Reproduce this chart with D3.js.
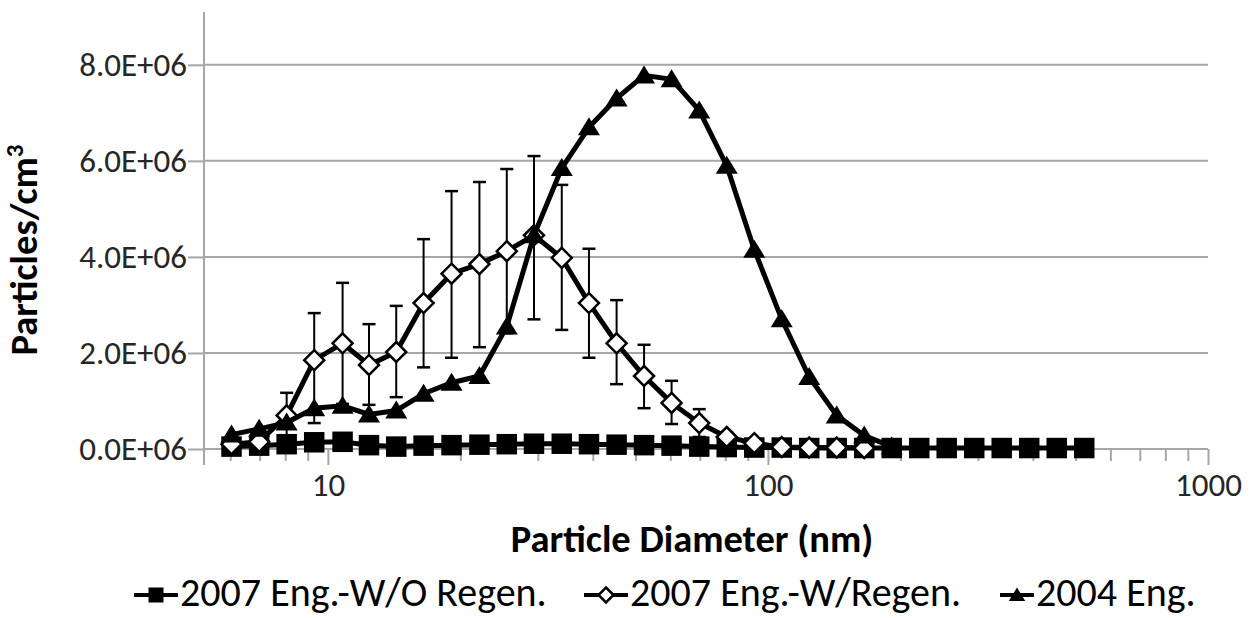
<!DOCTYPE html>
<html><head><meta charset="utf-8">
<script src="https://cdn.jsdelivr.net/npm/d3@7"></script>
<style>html,body{margin:0;padding:0;background:#fff;} svg{display:block;}</style>
</head><body><svg id="c" width="1256" height="618"></svg>
<script>
// ---------- data ----------
const diameters = [6.04, 6.98, 8.06, 9.31, 10.8, 12.4, 14.3, 16.5, 19.1, 22.1, 25.5, 29.4, 34.0, 39.2, 45.3, 52.3,
  60.4, 69.8, 80.6, 93.1, 107.5, 124.1, 143.3, 165.5, 191.1, 220.7, 254.8, 294.3, 339.8, 392.4, 453.2, 523.3];
const noRegen = [0.05e6, 0.07e6, 0.10e6, 0.14e6, 0.15e6, 0.08e6, 0.05e6, 0.07e6, 0.08e6, 0.09e6, 0.10e6, 0.11e6,
  0.11e6, 0.10e6, 0.09e6, 0.08e6, 0.07e6, 0.05e6, 0.04e6, 0.03e6, 0.03e6, 0.02e6, 0.02e6, 0.02e6, 0.02e6, 0.02e6,
  0.02e6, 0.02e6, 0.02e6, 0.02e6, 0.02e6, 0.02e6];
const withRegen = [0.10e6, 0.15e6, 0.70e6, 1.85e6, 2.20e6, 1.75e6, 2.02e6, 3.04e6, 3.65e6, 3.85e6, 4.12e6, 4.45e6,
  3.98e6, 3.04e6, 2.20e6, 1.52e6, 0.96e6, 0.54e6, 0.25e6, 0.12e6, 0.04e6, 0.03e6, 0.03e6, 0.02e6];
const withRegenErrUp = [0.03e6, 0.05e6, 0.47e6, 0.98e6, 1.26e6, 0.85e6, 0.96e6, 1.33e6, 1.72e6, 1.71e6, 1.71e6, 1.65e6,
  1.52e6, 1.13e6, 0.90e6, 0.65e6, 0.46e6, 0.29e6, 0.10e6, 0.03e6, 0.03e6, 0.03e6, 0.03e6, 0.03e6];
const withRegenErrDown = [0.03e6, 0.05e6, 0.47e6, 1.31e6, 1.26e6, 0.83e6, 0.94e6, 1.34e6, 1.75e6, 1.73e6, 1.71e6, 1.75e6,
  1.50e6, 1.14e6, 0.85e6, 0.67e6, 0.44e6, 0.29e6, 0.10e6, 0.03e6, 0.03e6, 0.03e6, 0.03e6, 0.03e6];
const eng2004 = [0.30e6, 0.42e6, 0.55e6, 0.85e6, 0.90e6, 0.72e6, 0.80e6, 1.15e6, 1.38e6, 1.52e6, 2.55e6, 4.45e6,
  5.85e6, 6.70e6, 7.30e6, 7.78e6, 7.70e6, 7.05e6, 5.90e6, 4.15e6, 2.70e6, 1.50e6, 0.70e6, 0.28e6, 0.05e6];
const seriesNames = ["2007 Eng.-W/O Regen.", "2007 Eng.-W/Regen.", "2004 Eng."];
const yTicks = [0, 2e6, 4e6, 6e6, 8e6];
const xMajorTicks = [10, 100, 1000];
const xMinorTicks = [6, 7, 8, 9, 20, 30, 40, 50, 60, 70, 80, 90, 200, 300, 400, 500, 600, 700, 800, 900];
const xTitle = "Particle Diameter (nm)";
const yTitle = "Particles/cm";

// ---------- layout ----------
const FONT = "Carlito, Calibri, 'Liberation Sans', Arial, sans-serif";
const plot = {left: 204, right: 1208, top: 12, zeroY: 449};
const GRID = "#a6a6a6";
const TICK_FONT = 33, TITLE_FONT = 38.5, LEGEND_FONT = 40;

const svg = d3.select("#c");
const x = d3.scaleLog().domain([5.23, 1000]).range([plot.left, plot.right]);
const y = d3.scaleLinear().domain([0, 9.1e6]).range([plot.zeroY, plot.top]);

// gridlines
svg.append("g").selectAll("line").data(yTicks).join("line")
  .attr("x1", plot.left).attr("x2", plot.right)
  .attr("y1", d => y(d)).attr("y2", d => y(d))
  .attr("stroke", GRID).attr("stroke-width", 2);

// y axis
const yAxis = svg.append("g").attr("transform", `translate(${plot.left},0)`)
  .call(d3.axisLeft(y).tickValues(yTicks).tickSize(16).tickPadding(1)
    .tickFormat(d => (d / 1e6).toFixed(1) + "E+06"));
yAxis.select(".domain").remove();
yAxis.selectAll(".tick line").attr("stroke", GRID).attr("stroke-width", 2);
yAxis.selectAll(".tick text").attr("font-family", FONT).attr("font-size", TICK_FONT).attr("fill", "#262626");
svg.append("line").attr("x1", plot.left).attr("x2", plot.left)
  .attr("y1", plot.top).attr("y2", plot.zeroY + 16)
  .attr("stroke", GRID).attr("stroke-width", 2);

// x axis
const xg = svg.append("g").attr("transform", `translate(0,${plot.zeroY})`);
const xAxisMinor = xg.append("g").call(d3.axisBottom(x).tickValues(xMinorTicks).tickSize(12).tickFormat(""));
xAxisMinor.select(".domain").remove();
xAxisMinor.selectAll(".tick line").attr("stroke", GRID).attr("stroke-width", 2);
const xAxisMajor = xg.append("g").call(d3.axisBottom(x).tickValues(xMajorTicks).tickSize(16).tickPadding(8)
  .tickFormat(d3.format("d")));
xAxisMajor.select(".domain").remove();
xAxisMajor.selectAll(".tick line").attr("stroke", GRID).attr("stroke-width", 2);
xAxisMajor.selectAll(".tick text").attr("font-family", FONT).attr("font-size", TICK_FONT).attr("fill", "#262626");
xg.append("line").attr("x1", plot.left).attr("x2", plot.right).attr("y1", 0).attr("y2", 0)
  .attr("stroke", GRID).attr("stroke-width", 2);

// titles
svg.append("text").attr("x", 692).attr("y", 552).attr("text-anchor", "middle")
  .attr("font-family", FONT).attr("font-size", TITLE_FONT).attr("font-weight", "bold").attr("fill", "#000")
  .text(xTitle);
const yt = svg.append("text").attr("transform", "translate(37,250) rotate(-90)").attr("text-anchor", "middle")
  .attr("font-family", FONT).attr("font-size", TITLE_FONT).attr("font-weight", "bold").attr("fill", "#000");
yt.append("tspan").text(yTitle);
yt.append("tspan").attr("font-size", 25).attr("dy", -14).text("3");

// ---------- marker shapes ----------
function markerSquare(g, cx, cy, s) {
  g.append("rect").attr("x", cx - s / 2).attr("y", cy - s / 2).attr("width", s).attr("height", s).attr("fill", "#000");
}
function markerDiamond(g, cx, cy, s) {
  const h = s / 2;
  g.append("path").attr("d", `M${cx},${cy - h}L${cx + h},${cy}L${cx},${cy + h}L${cx - h},${cy}Z`)
    .attr("fill", "#fff").attr("stroke", "#000").attr("stroke-width", 2.5);
}
function markerTriangle(g, cx, cy, s) {
  const w = s * 0.55, hTop = s * 0.5, hBot = s * 0.4;
  g.append("path").attr("d", `M${cx},${cy - hTop}L${cx + w},${cy + hBot}L${cx - w},${cy + hBot}Z`).attr("fill", "#000");
}

const line = d3.line().x(d => x(d[0])).y(d => y(d[1]));

// series 1: squares
const s1 = diameters.map((d, i) => [d, noRegen[i]]);
const g1 = svg.append("g");
g1.append("path").attr("d", line(s1)).attr("fill", "none").attr("stroke", "#000").attr("stroke-width", 5);
s1.forEach(p => markerSquare(g1, x(p[0]), y(p[1]), 20.5));

// series 2: diamonds with error bars
const s2 = withRegen.map((v, i) => [diameters[i], v]);
const g2 = svg.append("g");
g2.append("path").attr("d", line(s2)).attr("fill", "none").attr("stroke", "#000").attr("stroke-width", 5);
s2.forEach((p, i) => {
  const cx = x(p[0]), yTop = y(p[1] + withRegenErrUp[i]), yBot = y(p[1] - withRegenErrDown[i]);
  g2.append("line").attr("x1", cx).attr("x2", cx).attr("y1", yTop).attr("y2", yBot).attr("stroke", "#000").attr("stroke-width", 2);
  [yTop, yBot].forEach(yy => g2.append("line").attr("x1", cx - 6.5).attr("x2", cx + 6.5)
    .attr("y1", yy).attr("y2", yy).attr("stroke", "#000").attr("stroke-width", 2.5));
});
s2.forEach(p => markerDiamond(g2, x(p[0]), y(p[1]), 20));

// series 3: triangles
const s3 = eng2004.map((v, i) => [diameters[i], v]);
const g3 = svg.append("g");
g3.append("path").attr("d", line(s3)).attr("fill", "none").attr("stroke", "#000").attr("stroke-width", 5);
s3.forEach(p => markerTriangle(g3, x(p[0]), y(p[1]), 20));

// ---------- legend ----------
const legendItems = [
  {name: seriesNames[0], x1: 134, x2: 178, marker: markerSquare},
  {name: seriesNames[1], x1: 584, x2: 628, marker: markerDiamond},
  {name: seriesNames[2], x1: 1000, x2: 1034, marker: markerTriangle}
];
const lg = svg.append("g");
const legendY = 595;
legendY;
legendItems.forEach(it => {
  lg.append("line").attr("x1", it.x1).attr("x2", it.x2).attr("y1", legendY).attr("y2", legendY)
    .attr("stroke", "#000").attr("stroke-width", 4);
  it.marker(lg, (it.x1 + it.x2) / 2, legendY, 15);
  lg.append("text").attr("x", it.x2 + 2).attr("y", legendY + 11)
    .attr("font-family", FONT).attr("font-size", LEGEND_FONT).attr("fill", "#000").text(it.name);
});
</script></body></html>
